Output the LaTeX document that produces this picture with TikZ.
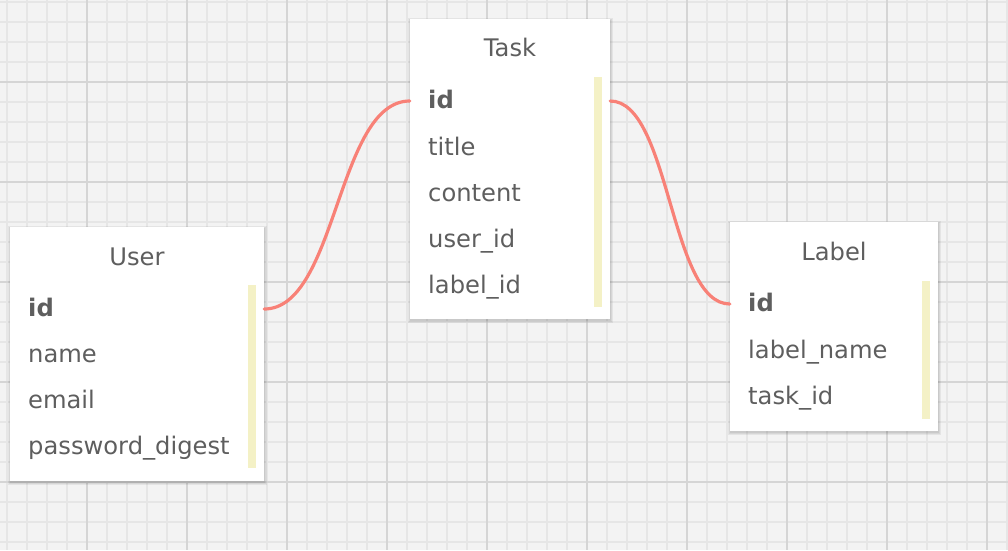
\documentclass[tikz,border=0pt]{standalone}
\usepackage{fontspec}
\setmainfont{DejaVu Sans}
\usetikzlibrary{calc}
\definecolor{bg}{HTML}{F3F3F3}
\definecolor{minorline}{HTML}{E6E6E6}
\definecolor{majorline}{HTML}{D5D5D5}
\definecolor{txt}{HTML}{5E5E5E}
\definecolor{bar}{HTML}{F4F1C6}
\definecolor{link}{HTML}{F88177}
\tikzset{
  tbox/.style={fill=white, draw=none, inner sep=0pt},
  shade box/.style={fill=black, opacity=0.06, draw=none},
  ybar/.style={fill=bar, draw=none},
  ttitle/.style={text=txt, font=\fontsize{24.2}{28}\selectfont, anchor=base, inner sep=0pt},
  field/.style={text=txt, font=\fontsize{24.2}{28}\selectfont, anchor=base west, inner sep=0pt},
  keyfield/.style={field, font=\fontsize{24.2}{28}\selectfont\bfseries},
  rel/.style={draw=link, line width=3.2pt, line cap=round}
}
\begin{document}
\begin{tikzpicture}[x=1pt,y=-1pt]
\useasboundingbox (0,0) rectangle (1008,550);
\fill[bg] (0,0) rectangle (1008,550);
% minor grid
\foreach \x in {7,27,...,1007} \draw[minorline, line width=2pt] (\x,0) -- (\x,550);
\foreach \y in {2,22,...,549} \draw[minorline, line width=2pt] (0,\y) -- (1008,\y);
% major grid
\foreach \x in {87,187,...,1007} \draw[majorline, line width=2pt] (\x,0) -- (\x,550);
\foreach \y in {82,182,...,549} \draw[majorline, line width=2pt] (0,\y) -- (1008,\y);

% shadows
\foreach \d in {1,2,3} {
  \fill[shade box] (410-\d+1,19-\d+2) rectangle (610+\d,319+\d+1);
  \fill[shade box] (10-\d+1,227-\d+2) rectangle (264+\d,481+\d+1);
  \fill[shade box] (730-\d+1,222-\d+2) rectangle (938+\d,431+\d+1);
}

% boxes
\node[tbox, minimum width=200pt, minimum height=300pt] (task) at (510,169) {};
\node[tbox, minimum width=254pt, minimum height=254pt] (user) at (137,354) {};
\node[tbox, minimum width=208pt, minimum height=209pt] (label) at (834,326.5) {};

% yellow bars
\fill[ybar] (594,77) rectangle (602,307);
\fill[ybar] (248,285) rectangle (256,468);
\fill[ybar] (922,281) rectangle (930,419);

% Task
\node[ttitle] (tasktitle) at (510,56) {Task};
\node[keyfield] (taskid) at (428,108) {id};
\node[field] (tasktitle2) at (428,155) {title};
\node[field] (taskcontent) at (428,201) {content};
\node[field] (taskuser) at (428,247) {user\_id};
\node[field] (tasklabel) at (428,293) {label\_id};

% User
\node[ttitle] (usertitle) at (137,265) {User};
\node[keyfield] (userid) at (28,316) {id};
\node[field] (username) at (28,362) {name};
\node[field] (useremail) at (28,408) {email};
\node[field] (userpw) at (28,454) {password\_digest};

% Label
\node[ttitle] (labeltitle) at (834,260) {Label};
\node[keyfield] (labelid) at (748,311) {id};
\node[field] (labelname) at (748,358) {label\_name};
\node[field] (labeltask) at (748,404) {task\_id};

% connector endpoints
\coordinate (uA) at (user.east |- 0,309);
\coordinate (tA) at (task.west |- 0,101);
\coordinate (tB) at (task.east |- 0,101);
\coordinate (lB) at (label.west |- 0,304);

\draw[rel] (uA) .. controls ($(uA)+(73,0)$) and ($(tA)+(-73,0)$) .. (tA);
\draw[rel] (tB) .. controls ($(tB)+(60,0)$) and ($(lB)+(-60,0)$) .. (lB);
\end{tikzpicture}
\end{document}
